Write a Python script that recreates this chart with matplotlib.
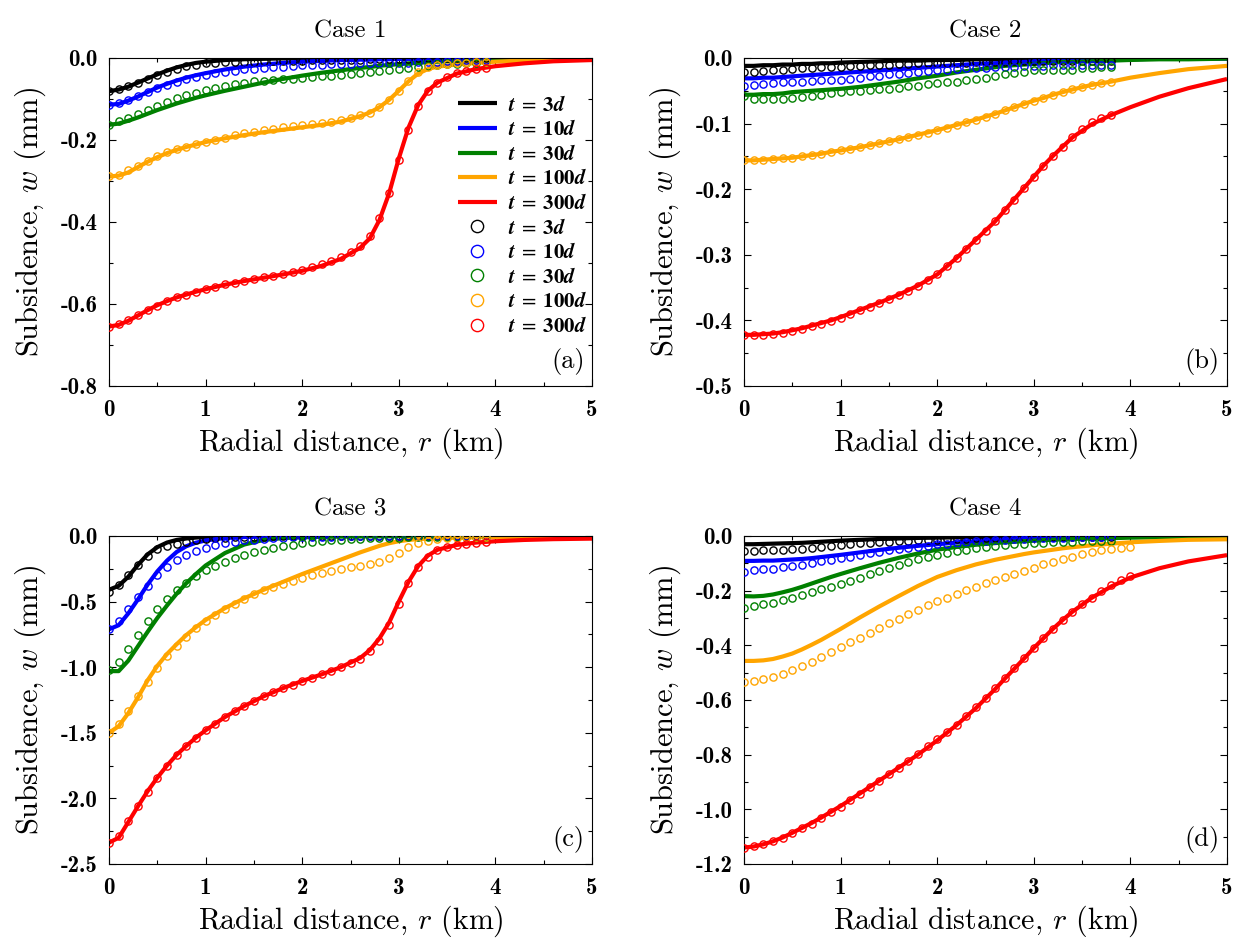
import matplotlib
matplotlib.use("Agg")
import matplotlib.pyplot as plt
from matplotlib.ticker import MultipleLocator
from matplotlib.font_manager import FontProperties

plt.rcParams['mathtext.fontset'] = 'cm'

# radial positions (km)
r_line = [0, 0.1, 0.2, 0.3, 0.4, 0.5, 0.6, 0.7, 0.8, 0.9, 1.0, 1.2, 1.4, 1.6, 1.8, 2.0,
          2.2, 2.4, 2.6, 2.7, 2.8, 2.9, 3.0, 3.1, 3.2, 3.3, 3.4, 3.6, 3.8, 4.0, 4.3, 4.6, 5.0]
r_mark = [0.0, 0.1, 0.2, 0.3, 0.4, 0.5, 0.6, 0.7, 0.8, 0.9, 1.0, 1.1, 1.2, 1.3, 1.4, 1.5,
          1.6, 1.7, 1.8, 1.9, 2.0, 2.1, 2.2, 2.3, 2.4, 2.5, 2.6, 2.7, 2.8, 2.9, 3.0, 3.1,
          3.2, 3.3, 3.4, 3.5, 3.6, 3.7, 3.8, 3.9, 4.0]

times = ['3', '10', '30', '100', '300']
colors = ['black', 'blue', 'green', 'orange', 'red']

# ---- Case 1 (mm) ----
c1_line_3 = [-0.081, -0.077, -0.070, -0.060, -0.050, -0.040, -0.031, -0.023, -0.017, -0.012, -0.009,
             -0.005, -0.003, -0.002, -0.001, -0.001, -0.001, 0, 0, 0, 0, 0, 0, 0, 0, 0, 0, 0, 0, 0, 0, 0, 0]
c1_line_10 = [-0.114, -0.112, -0.104, -0.094, -0.083, -0.072, -0.063, -0.055, -0.048, -0.042, -0.037,
              -0.028, -0.021, -0.016, -0.012, -0.009, -0.007, -0.005, -0.004, -0.004, -0.003, -0.003,
              -0.002, -0.002, -0.002, -0.002, -0.001, -0.001, -0.001, -0.001, 0, 0, 0]
c1_line_30 = [-0.163, -0.160, -0.153, -0.145, -0.136, -0.127, -0.119, -0.111, -0.104, -0.097, -0.091,
              -0.080, -0.070, -0.060, -0.051, -0.043, -0.036, -0.030, -0.024, -0.022, -0.019, -0.017,
              -0.015, -0.013, -0.012, -0.010, -0.009, -0.007, -0.005, -0.004, -0.003, -0.002, -0.001]
c1_line_100 = [-0.289, -0.287, -0.279, -0.266, -0.253, -0.242, -0.232, -0.224, -0.217, -0.211, -0.205,
               -0.196, -0.188, -0.181, -0.175, -0.169, -0.163, -0.155, -0.142, -0.133, -0.120, -0.102,
               -0.080, -0.057, -0.038, -0.027, -0.021, -0.016, -0.012, -0.009, -0.006, -0.004, -0.002]
c1_line_300 = [-0.655, -0.651, -0.641, -0.628, -0.615, -0.603, -0.593, -0.584, -0.577, -0.570, -0.564,
               -0.553, -0.544, -0.536, -0.528, -0.519, -0.507, -0.490, -0.463, -0.440, -0.395, -0.330,
               -0.245, -0.170, -0.115, -0.080, -0.060, -0.038, -0.027, -0.020, -0.013, -0.008, -0.005]
c1_mark_3 = [-0.081, -0.075, -0.068, -0.060, -0.050, -0.041, -0.033, -0.026, -0.020, -0.016,
             -0.012, -0.011, -0.010, -0.010, -0.009, -0.009, -0.008, -0.008, -0.008, -0.007,
             -0.007, -0.006, -0.006, -0.005, -0.005, -0.004, -0.004, -0.003, -0.003, -0.002,
             -0.002, -0.002, -0.001, -0.001, -0.001, -0.001, -0.001, -0.001, -0.001, -0.001]
c1_mark_10 = [-0.114, -0.110, -0.102, -0.093, -0.083, -0.073, -0.065, -0.058, -0.052, -0.046,
              -0.041, -0.037, -0.034, -0.031, -0.028, -0.026, -0.024, -0.022, -0.021, -0.019,
              -0.018, -0.017, -0.016, -0.015, -0.014, -0.014, -0.013, -0.013, -0.012, -0.012,
              -0.011, -0.011, -0.010, -0.010, -0.009, -0.008, -0.007, -0.006, -0.005, -0.004]
c1_mark_30 = [-0.163, -0.153, -0.146, -0.137, -0.126, -0.116, -0.107, -0.098, -0.091, -0.085,
              -0.078, -0.072, -0.068, -0.064, -0.060, -0.057, -0.055, -0.053, -0.051, -0.050,
              -0.048, -0.046, -0.045, -0.043, -0.042, -0.039, -0.037, -0.034, -0.032, -0.029,
              -0.027, -0.024, -0.021, -0.019, -0.017, -0.015, -0.014, -0.012, -0.011, -0.009]
c1_mark_100 = [-0.289, -0.285, -0.274, -0.263, -0.251, -0.240, -0.230, -0.222, -0.216, -0.210,
               -0.204, -0.199, -0.194, -0.189, -0.184, -0.180, -0.176, -0.172, -0.169, -0.167,
               -0.164, -0.161, -0.158, -0.155, -0.151, -0.146, -0.140, -0.133, -0.120, -0.102,
               -0.081, -0.057, -0.033, -0.022, -0.017, -0.015, -0.013, -0.011, -0.010, -0.009]
c1_mark_300 = [-0.655, -0.649, -0.640, -0.628, -0.615, -0.604, -0.593, -0.584, -0.577, -0.570,
               -0.564, -0.558, -0.552, -0.548, -0.543, -0.539, -0.535, -0.531, -0.526, -0.522,
               -0.516, -0.510, -0.503, -0.495, -0.485, -0.473, -0.458, -0.435, -0.391, -0.330,
               -0.248, -0.175, -0.118, -0.081, -0.061, -0.047, -0.037, -0.031, -0.027, -0.024]

# ---- Case 2 ----
c2_line_3 = [-0.012, -0.012, -0.011, -0.011, -0.010, -0.010, -0.009, -0.009, -0.008, -0.008, -0.007,
             -0.006, -0.005, -0.004, -0.004, -0.003, -0.003, -0.002, -0.002, -0.002, -0.002, -0.002,
             -0.001, -0.001, -0.001, -0.001, -0.001, -0.001, -0.001, -0.001, 0, 0, 0]
c2_line_10 = [-0.031, -0.031, -0.030, -0.030, -0.029, -0.028, -0.027, -0.026, -0.025, -0.024, -0.023,
              -0.021, -0.019, -0.017, -0.015, -0.013, -0.011, -0.009, -0.008, -0.007, -0.006, -0.006,
              -0.005, -0.004, -0.004, -0.004, -0.003, -0.003, -0.002, -0.002, -0.001, -0.001, -0.001]
c2_line_30 = [-0.056, -0.056, -0.055, -0.055, -0.054, -0.052, -0.051, -0.050, -0.049, -0.048, -0.047,
              -0.044, -0.040, -0.036, -0.031, -0.027, -0.022, -0.018, -0.014, -0.012, -0.011, -0.010,
              -0.009, -0.008, -0.007, -0.006, -0.006, -0.005, -0.004, -0.003, -0.002, -0.002, -0.001]
c2_line_100 = [-0.156, -0.156, -0.155, -0.154, -0.153, -0.152, -0.150, -0.148, -0.146, -0.143, -0.141,
               -0.136, -0.130, -0.124, -0.117, -0.110, -0.102, -0.094, -0.085, -0.080, -0.075, -0.070,
               -0.065, -0.061, -0.056, -0.052, -0.048, -0.041, -0.036, -0.030, -0.023, -0.017, -0.012]
c2_line_300 = [-0.422, -0.422, -0.421, -0.420, -0.418, -0.415, -0.412, -0.408, -0.404, -0.400, -0.395,
               -0.384, -0.373, -0.361, -0.347, -0.330, -0.305, -0.277, -0.249, -0.232, -0.215, -0.198,
               -0.181, -0.164, -0.149, -0.135, -0.121, -0.101, -0.087, -0.075, -0.059, -0.046, -0.032]
c2_mark_3 = [-0.022, -0.021, -0.020, -0.019, -0.018, -0.017, -0.016, -0.015, -0.014, -0.014,
             -0.013, -0.012, -0.012, -0.011, -0.010, -0.010, -0.009, -0.009, -0.008, -0.008,
             -0.008, -0.007, -0.007, -0.007, -0.006, -0.006, -0.006, -0.006, -0.005, -0.005,
             -0.005, -0.005, -0.005, -0.004, -0.004, -0.004, -0.004, -0.004, -0.004]
c2_mark_10 = [-0.043, -0.041, -0.039, -0.038, -0.037, -0.037, -0.036, -0.035, -0.034, -0.034,
              -0.033, -0.032, -0.031, -0.028, -0.027, -0.025, -0.024, -0.023, -0.022, -0.020,
              -0.019, -0.018, -0.017, -0.016, -0.016, -0.015, -0.014, -0.013, -0.013, -0.012,
              -0.012, -0.012, -0.011, -0.011, -0.011, -0.011, -0.011, -0.010, -0.010]
c2_mark_30 = [-0.058, -0.063, -0.063, -0.062, -0.062, -0.061, -0.060, -0.058, -0.057, -0.054,
              -0.052, -0.051, -0.050, -0.049, -0.048, -0.047, -0.046, -0.043, -0.042, -0.040,
              -0.038, -0.037, -0.036, -0.034, -0.032, -0.030, -0.028, -0.025, -0.023, -0.021,
              -0.019, -0.019, -0.019, -0.019, -0.018, -0.016, -0.015, -0.014, -0.014]
c2_mark_100 = [-0.156, -0.156, -0.155, -0.154, -0.153, -0.152, -0.150, -0.148, -0.146, -0.143,
               -0.141, -0.138, -0.136, -0.133, -0.130, -0.127, -0.124, -0.121, -0.117, -0.114,
               -0.110, -0.106, -0.102, -0.098, -0.094, -0.090, -0.085, -0.080, -0.075, -0.070,
               -0.065, -0.061, -0.056, -0.052, -0.048, -0.044, -0.041, -0.038, -0.036]
c2_mark_300 = [-0.422, -0.423, -0.422, -0.421, -0.419, -0.416, -0.413, -0.409, -0.405, -0.401,
               -0.396, -0.390, -0.384, -0.379, -0.374, -0.368, -0.362, -0.355, -0.348, -0.339,
               -0.330, -0.317, -0.305, -0.291, -0.277, -0.264, -0.249, -0.232, -0.216, -0.198,
               -0.181, -0.164, -0.149, -0.135, -0.121, -0.108, -0.097, -0.092, -0.087]

# ---- Case 3 ----
c3_line_3 = [-0.410, -0.380, -0.310, -0.220, -0.140, -0.085, -0.050, -0.030, -0.019, -0.012, -0.008,
             -0.004, -0.002, -0.001, -0.001, 0, 0, 0, 0, 0, 0, 0, 0, 0, 0, 0, 0, 0, 0, 0, 0, 0, 0]
c3_line_10 = [-0.711, -0.680, -0.590, -0.483, -0.370, -0.270, -0.188, -0.122, -0.078, -0.051, -0.034,
              -0.015, -0.008, -0.004, -0.002, -0.001, 0, 0, 0, 0, 0, 0, 0, 0, 0, 0, 0, 0, 0, 0, 0, 0, 0]
c3_line_30 = [-1.030, -1.030, -0.950, -0.840, -0.730, -0.625, -0.530, -0.440, -0.360, -0.290, -0.225,
              -0.130, -0.065, -0.030, -0.016, -0.010, -0.006, -0.004, -0.003, -0.002, -0.002, -0.002,
              -0.001, -0.001, -0.001, -0.001, -0.001, 0, 0, 0, 0, 0, 0]
c3_line_100 = [-1.500, -1.450, -1.350, -1.230, -1.100, -0.990, -0.900, -0.825, -0.755, -0.695, -0.640,
               -0.550, -0.475, -0.410, -0.350, -0.290, -0.235, -0.180, -0.125, -0.100, -0.075, -0.055,
               -0.040, -0.030, -0.024, -0.020, -0.017, -0.013, -0.010, -0.008, -0.006, -0.005, -0.004]
c3_line_300 = [-2.337, -2.300, -2.180, -2.060, -1.945, -1.842, -1.750, -1.668, -1.600, -1.537, -1.481,
               -1.380, -1.296, -1.222, -1.160, -1.105, -1.055, -1.000, -0.930, -0.870, -0.780, -0.660,
               -0.500, -0.350, -0.230, -0.150, -0.105, -0.068, -0.050, -0.040, -0.030, -0.024, -0.020]
c3_mark_3 = [-0.424, -0.373, -0.297, -0.221, -0.152, -0.102, -0.076, -0.058, -0.043, -0.033,
             -0.025, -0.018, -0.013, -0.009, -0.007, -0.005, -0.004, -0.003, -0.003, -0.002,
             -0.002, -0.002, -0.002, -0.002, -0.001, -0.001, -0.001, -0.001, -0.001, -0.001,
             -0.001, -0.001, -0.001, -0.001, -0.001, -0.001, -0.001, -0.001, -0.001, -0.001]
c3_mark_10 = [-0.712, -0.648, -0.559, -0.468, -0.378, -0.298, -0.236, -0.185, -0.145, -0.114,
              -0.089, -0.070, -0.055, -0.043, -0.034, -0.027, -0.021, -0.016, -0.012, -0.009,
              -0.007, -0.006, -0.005, -0.004, -0.003, -0.003, -0.002, -0.002, -0.002, -0.002,
              -0.001, -0.001, -0.001, -0.001, -0.001, -0.001, -0.001, -0.001, -0.001, -0.001]
c3_mark_30 = [-1.024, -0.958, -0.864, -0.755, -0.648, -0.559, -0.483, -0.414, -0.356, -0.305,
              -0.262, -0.226, -0.196, -0.170, -0.146, -0.124, -0.106, -0.090, -0.077, -0.065,
              -0.055, -0.047, -0.040, -0.034, -0.029, -0.025, -0.021, -0.018, -0.016, -0.014,
              -0.012, -0.011, -0.010, -0.009, -0.008, -0.007, -0.006, -0.006, -0.005, -0.005]
c3_mark_100 = [-1.499, -1.435, -1.334, -1.219, -1.110, -1.009, -0.915, -0.838, -0.770, -0.704,
               -0.648, -0.600, -0.553, -0.515, -0.478, -0.445, -0.413, -0.389, -0.364, -0.343,
               -0.320, -0.300, -0.280, -0.266, -0.253, -0.240, -0.225, -0.210, -0.195, -0.168,
               -0.128, -0.085, -0.055, -0.035, -0.024, -0.017, -0.013, -0.010, -0.008, -0.007]
c3_mark_300 = [-2.337, -2.290, -2.170, -2.060, -1.950, -1.845, -1.750, -1.668, -1.600, -1.537,
               -1.481, -1.430, -1.380, -1.336, -1.296, -1.258, -1.222, -1.190, -1.160, -1.133,
               -1.105, -1.080, -1.055, -1.030, -1.000, -0.970, -0.940, -0.880, -0.800, -0.680,
               -0.520, -0.360, -0.240, -0.160, -0.110, -0.085, -0.070, -0.058, -0.050, -0.044]

# ---- Case 4 ----
c4_line_3 = [-0.030, -0.030, -0.029, -0.028, -0.027, -0.026, -0.025, -0.023, -0.021, -0.019, -0.017,
             -0.014, -0.011, -0.009, -0.007, -0.006, -0.005, -0.004, -0.003, -0.003, -0.002, -0.002,
             -0.002, -0.002, -0.002, -0.002, -0.002, -0.001, -0.001, -0.001, -0.001, -0.001, -0.001]
c4_line_10 = [-0.091, -0.091, -0.090, -0.090, -0.088, -0.086, -0.084, -0.081, -0.077, -0.073, -0.069,
              -0.060, -0.051, -0.043, -0.036, -0.030, -0.024, -0.019, -0.015, -0.013, -0.012, -0.011,
              -0.009, -0.008, -0.007, -0.006, -0.006, -0.005, -0.004, -0.003, -0.002, -0.002, -0.001]
c4_line_30 = [-0.220, -0.221, -0.219, -0.214, -0.206, -0.197, -0.186, -0.174, -0.162, -0.150, -0.139,
              -0.118, -0.098, -0.080, -0.064, -0.050, -0.040, -0.032, -0.026, -0.023, -0.021, -0.019,
              -0.017, -0.015, -0.014, -0.012, -0.011, -0.009, -0.008, -0.006, -0.005, -0.003, -0.002]
c4_line_100 = [-0.457, -0.457, -0.455, -0.450, -0.441, -0.430, -0.415, -0.398, -0.380, -0.360, -0.340,
               -0.298, -0.258, -0.220, -0.183, -0.150, -0.125, -0.104, -0.087, -0.080, -0.073, -0.066,
               -0.060, -0.055, -0.050, -0.045, -0.041, -0.034, -0.028, -0.023, -0.018, -0.014, -0.012]
c4_line_300 = [-1.140, -1.136, -1.128, -1.117, -1.103, -1.086, -1.068, -1.050, -1.030, -1.009, -0.988,
               -0.942, -0.895, -0.848, -0.800, -0.748, -0.692, -0.630, -0.560, -0.522, -0.485, -0.448,
               -0.410, -0.374, -0.339, -0.307, -0.277, -0.226, -0.185, -0.152, -0.118, -0.093, -0.070]
c4_mark_3 = [-0.055, -0.055, -0.053, -0.052, -0.050, -0.049, -0.047, -0.043, -0.040, -0.037,
             -0.033, -0.030, -0.027, -0.025, -0.022, -0.021, -0.019, -0.017, -0.016, -0.014,
             -0.013, -0.012, -0.011, -0.010, -0.009, -0.008, -0.007, -0.006, -0.005, -0.005,
             -0.004, -0.004, -0.003, -0.003, -0.003, -0.002, -0.002, -0.002, -0.002]
c4_mark_10 = [-0.130, -0.126, -0.122, -0.119, -0.115, -0.110, -0.105, -0.099, -0.093, -0.087,
              -0.081, -0.075, -0.069, -0.063, -0.057, -0.052, -0.047, -0.043, -0.039, -0.035,
              -0.031, -0.028, -0.025, -0.022, -0.020, -0.018, -0.016, -0.014, -0.012, -0.010,
              -0.009, -0.008, -0.007, -0.006, -0.005, -0.004, -0.003, -0.002, -0.001]
c4_mark_30 = [-0.262, -0.256, -0.250, -0.244, -0.235, -0.226, -0.216, -0.205, -0.195, -0.185,
              -0.174, -0.165, -0.152, -0.140, -0.128, -0.118, -0.106, -0.095, -0.085, -0.077,
              -0.070, -0.061, -0.055, -0.050, -0.045, -0.040, -0.037, -0.033, -0.030, -0.028,
              -0.026, -0.024, -0.023, -0.022, -0.021, -0.020, -0.018, -0.018, -0.017]
c4_mark_100 = [-0.533, -0.530, -0.524, -0.516, -0.506, -0.492, -0.477, -0.461, -0.444, -0.425,
               -0.406, -0.389, -0.372, -0.355, -0.337, -0.319, -0.303, -0.286, -0.270, -0.254,
               -0.239, -0.225, -0.211, -0.198, -0.185, -0.173, -0.161, -0.149, -0.139, -0.128,
               -0.116, -0.104, -0.094, -0.085, -0.076, -0.067, -0.060, -0.053, -0.047, -0.043, -0.040]
c4_mark_300 = [-1.140, -1.134, -1.128, -1.117, -1.105, -1.087, -1.069, -1.052, -1.032, -1.011,
               -0.990, -0.967, -0.943, -0.920, -0.896, -0.872, -0.848, -0.824, -0.798, -0.770,
               -0.742, -0.718, -0.690, -0.660, -0.627, -0.592, -0.555, -0.518, -0.482, -0.446,
               -0.410, -0.374, -0.339, -0.307, -0.277, -0.250, -0.226, -0.201, -0.180, -0.160, -0.146]

# y axis settings for each case
c1_yticks = [0.0, -0.2, -0.4, -0.6, -0.8]
c2_yticks = [0.0, -0.1, -0.2, -0.3, -0.4, -0.5]
c3_yticks = [0.0, -0.5, -1.0, -1.5, -2.0, -2.5]
c4_yticks = [0.0, -0.2, -0.4, -0.6, -0.8, -1.0, -1.2]
x_ticks = [0, 1, 2, 3, 4, 5]

panels = [
    ('Case 1', '(a)', [c1_line_3, c1_line_10, c1_line_30, c1_line_100, c1_line_300],
     [c1_mark_3, c1_mark_10, c1_mark_30, c1_mark_100, c1_mark_300], c1_yticks, 0.1),
    ('Case 2', '(b)', [c2_line_3, c2_line_10, c2_line_30, c2_line_100, c2_line_300],
     [c2_mark_3, c2_mark_10, c2_mark_30, c2_mark_100, c2_mark_300], c2_yticks, 0.05),
    ('Case 3', '(c)', [c3_line_3, c3_line_10, c3_line_30, c3_line_100, c3_line_300],
     [c3_mark_3, c3_mark_10, c3_mark_30, c3_mark_100, c3_mark_300], c3_yticks, 0.25),
    ('Case 4', '(d)', [c4_line_3, c4_line_10, c4_line_30, c4_line_100, c4_line_300],
     [c4_mark_3, c4_mark_10, c4_mark_30, c4_mark_100, c4_mark_300], c4_yticks, 0.1),
]

fig = plt.figure(figsize=(12.39, 9.42), dpi=100)
W, H = 1239.0, 942.0
boxes = [(109, 58), (744, 58), (109, 536), (744, 536)]  # left, top in pixels
aw, ah = 483, 328

for (title, tag, lines, marks, yt, yminor), (lx, ty) in zip(panels, boxes):
    ax = fig.add_axes([lx / W, 1 - (ty + ah) / H, aw / W, ah / H])
    handles = []
    for w, c in zip(lines, colors):
        h, = ax.plot(r_line, w, color=c, lw=3.0, solid_capstyle='butt', zorder=2)
        handles.append(h)
    for w, c in zip(marks, colors):
        h, = ax.plot(r_mark[:len(w)], w, ls='none', marker='o', ms=5.2, mfc='none',
                     mec=c, mew=1.0, zorder=3)
        handles.append(h)

    ax.set_xlim(0, 5)
    ax.set_ylim(yt[-1], 0)
    ax.set_xticks(x_ticks)
    ax.set_xticklabels([str(v) for v in x_ticks], fontfamily='cmb10', fontsize=16.5)
    ax.set_yticks(yt)
    ax.set_yticklabels(['%.1f' % v if v != 0 else '0.0' for v in yt], fontfamily='cmb10', fontsize=16.5)
    ax.xaxis.set_minor_locator(MultipleLocator(0.5))
    ax.yaxis.set_minor_locator(MultipleLocator(yminor))
    ax.tick_params(which='both', direction='in', top=True, right=True, width=0.8)
    ax.tick_params(which='major', length=5)
    ax.tick_params(which='minor', length=3)
    ax.tick_params(axis='x', pad=9)
    ax.tick_params(axis='y', pad=8)
    for s in ax.spines.values():
        s.set_linewidth(0.8)

    ax.set_title(title, fontfamily='cmr10', fontsize=18, pad=15)
    ax.set_xlabel('Radial distance, $r$ (km)', fontfamily='cmr10', fontsize=21.5, labelpad=4)
    ax.set_ylabel('Subsidence, $w$ (mm)', fontfamily='cmr10', fontsize=22, labelpad=9)
    ax.text(0.985, 0.035, tag, transform=ax.transAxes, ha='right', va='bottom',
            fontfamily='cmr10', fontsize=19)

    if tag == '(a)':
        labels = [r'$\mathbfit{t}\;=\;\mathbf{%s}\mathbfit{d}$' % t for t in times] * 2
        lp = FontProperties(size=15, math_fontfamily='stix')
        ax.legend(handles, labels, loc='upper left', bbox_to_anchor=(0.70, 0.92),
                  frameon=False, prop=lp, handlelength=1.9, handletextpad=0.5,
                  labelspacing=0.22, borderpad=0, markerscale=1.7)

fig.savefig('out.png', dpi=100)
